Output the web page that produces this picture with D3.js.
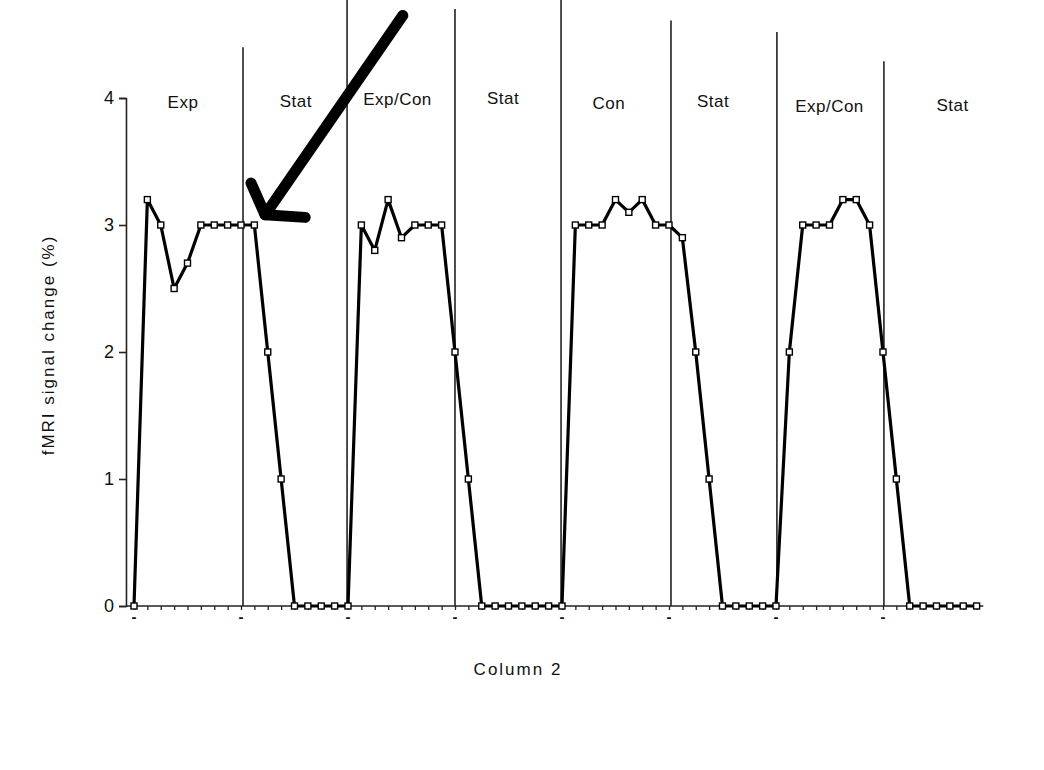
<!DOCTYPE html>
<html>
<head>
<meta charset="utf-8">
<script src="https://cdn.jsdelivr.net/npm/d3@7"></script>
<style>
  html, body { margin: 0; padding: 0; background: #fff; }
  svg { display: block; }
  text { font-family: Arial, "Liberation Sans", sans-serif; fill: #111; }
</style>
</head>
<body>
<svg id="chart" width="1044" height="770"></svg>
<script>
// ---- data ----
// fMRI signal change (%) sampled at each scan (index 0..63)
const signal = [
  0, 3.2, 3.0, 2.5, 2.7, 3.0, 3.0, 3.0,   // Exp
  3.0, 3.0, 2.0, 1.0, 0, 0, 0, 0,         // Stat
  0, 3.0, 2.8, 3.2, 2.9, 3.0, 3.0, 3.0,   // Exp/Con
  2.0, 1.0, 0, 0, 0, 0, 0, 0,             // Stat
  0, 3.0, 3.0, 3.0, 3.2, 3.1, 3.2, 3.0,   // Con
  3.0, 2.9, 2.0, 1.0, 0, 0, 0, 0,         // Stat
  0, 2.0, 3.0, 3.0, 3.0, 3.2, 3.2, 3.0,   // Exp/Con
  2.0, 1.0, 0, 0, 0, 0, 0, 0              // Stat
];
const conditionLabels = ["Exp", "Stat", "Exp/Con", "Stat", "Con", "Stat", "Exp/Con", "Stat"];
const labelPositions = [3.66, 12.1, 19.7, 27.6, 35.5, 43.3, 52.0, 61.2];   // scan index of label centre
const labelHeights = [4.0, 4.01, 4.02, 4.03, 3.99, 4.01, 3.97, 3.98];      // signal units of baseline
const dividerPositions = [8.15, 15.93, 24.0, 31.93, 40.15, 48.07, 56.07];   // scan index
const dividerTops = [4.40, 4.8, 4.70, 4.8, 4.61, 4.52, 4.29];               // signal units
const yTicks = [0, 1, 2, 3, 4];
const xMajorTicks = [0, 8, 16, 24, 32, 40, 48, 56];
const arrowShaft = [[20.1, 4.65], [9.8, 3.08]];
const arrowHead = [[8.75, 3.33], [9.8, 3.08], [12.8, 3.06]];
const yTitle = "fMRI signal change (%)";
const xTitle = "Column 2";

// ---- scales ----
const svg = d3.select("#chart");
const x = d3.scaleLinear().domain([0, 63]).range([134, 976.6]);
const y = d3.scaleLinear().domain([0, 4]).range([606, 98]);
const xAxisStart = x(-0.6), xAxisEnd = x(63.5);

// ---- divider lines ----
svg.append("g").selectAll("line")
  .data(dividerPositions)
  .join("line")
  .attr("x1", d => x(d)).attr("x2", d => x(d))
  .attr("y1", y(0)).attr("y2", (d, i) => Math.max(0, y(dividerTops[i])))
  .attr("stroke", "#222").attr("stroke-width", 1.6);

// ---- y axis ----
const yAxis = d3.axisLeft(y).tickValues(yTicks).tickSize(7).tickPadding(5).tickFormat(d3.format("d"));
const gy = svg.append("g").attr("transform", `translate(${xAxisStart},0)`).call(yAxis);
gy.select(".domain").attr("stroke", "#222").attr("stroke-width", 1.6);
gy.selectAll(".tick line").attr("stroke", "#222").attr("stroke-width", 1.6);
gy.selectAll(".tick text").style("font-size", "18px").style("font-family", "Arial, 'Liberation Sans', sans-serif").attr("fill", "#222");

// ---- x axis ----
const xAxis = d3.axisBottom(x).tickValues(d3.range(0, 64)).tickSize(4).tickFormat(() => "");
const gx = svg.append("g").attr("transform", `translate(0,${y(0)})`).call(xAxis);
gx.select(".domain").attr("d", `M${xAxisStart},0H${xAxisEnd}`).attr("stroke", "#222").attr("stroke-width", 1.6);
gx.selectAll(".tick line").attr("stroke", "#222").attr("stroke-width", 1.3);
// major tick labels rendered as dashes
svg.append("g").selectAll("text")
  .data(xMajorTicks)
  .join("text")
  .attr("x", d => x(d)).attr("y", y(0) + 16)
  .attr("text-anchor", "middle")
  .style("font-size", "15px").style("font-weight", "bold")
  .text("-");

// ---- condition labels ----
svg.append("g").selectAll("text")
  .data(conditionLabels)
  .join("text")
  .attr("x", (d, i) => x(labelPositions[i]))
  .attr("y", (d, i) => y(labelHeights[i]) + 10)
  .attr("text-anchor", "middle")
  .style("font-size", "17px").style("letter-spacing", "0.5px")
  .text(d => d);

// ---- signal line ----
const line = d3.line().x((d, i) => x(i)).y(d => y(d));
svg.append("path")
  .datum(signal)
  .attr("d", line)
  .attr("fill", "none").attr("stroke", "#000").attr("stroke-width", 3.2)
  .attr("stroke-linejoin", "round");

const ms = 6;
svg.append("g").selectAll("rect")
  .data(signal)
  .join("rect")
  .attr("x", (d, i) => x(i) - ms / 2).attr("y", d => y(d) - ms / 2)
  .attr("width", ms).attr("height", ms)
  .attr("fill", "#fff").attr("stroke", "#000").attr("stroke-width", 1.4);

// ---- arrow annotation ----
const aLine = d3.line().x(d => x(d[0])).y(d => y(d[1]));
svg.append("path").attr("d", aLine(arrowShaft))
  .attr("fill", "none").attr("stroke", "#000").attr("stroke-width", 11)
  .attr("stroke-linecap", "round");
svg.append("path").attr("d", aLine(arrowHead))
  .attr("fill", "none").attr("stroke", "#000").attr("stroke-width", 11)
  .attr("stroke-linecap", "round").attr("stroke-linejoin", "round");

// ---- axis titles ----
svg.append("text")
  .attr("transform", `translate(54,${(y(0) + y(4)) / 2 - 7}) rotate(-90)`)
  .attr("text-anchor", "middle")
  .style("font-size", "17px").style("letter-spacing", "2px")
  .text(yTitle);
svg.append("text")
  .attr("x", 518).attr("y", 675)
  .attr("text-anchor", "middle")
  .style("font-size", "17px").style("letter-spacing", "2px")
  .text(xTitle);
</script>
</body>
</html>
